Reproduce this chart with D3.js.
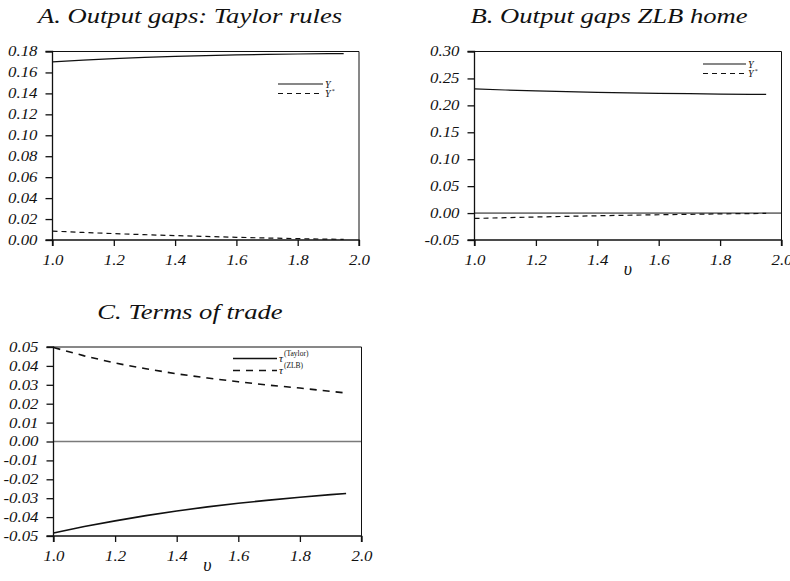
<!DOCTYPE html>
<html>
<head>
<meta charset="utf-8">
<script src="https://cdn.jsdelivr.net/npm/d3@7"></script>
<style>
  html, body { margin: 0; padding: 0; background: #fff; }
  svg { display: block; }
  text { font-family: "Liberation Serif", serif; font-style: italic; fill: #111; }
</style>
</head>
<body>
<svg id="chart" width="790" height="581"></svg>
<script>
// ---------- DATA ----------
const upsilon = [1.0, 1.1, 1.2, 1.3, 1.4, 1.5, 1.6, 1.7, 1.8, 1.9, 1.95];

// Panel A: output gaps under Taylor rules
const aY     = [0.1700, 0.1718, 0.1732, 0.1744, 0.1753, 0.1761, 0.1767, 0.1772, 0.1776, 0.1779, 0.1780];
const aYstar = [0.0085, 0.0072, 0.0061, 0.0051, 0.0042, 0.0034, 0.0026, 0.0019, 0.0013, 0.0008, 0.0006];

// Panel B: output gaps ZLB home
const bY     = [0.2305, 0.2285, 0.2268, 0.2254, 0.2242, 0.2232, 0.2224, 0.2216, 0.2210, 0.2205, 0.2203];
const bYstar = [-0.0100, -0.0086, -0.0073, -0.0061, -0.0050, -0.0040, -0.0031, -0.0023, -0.0015, -0.0009, -0.0006];

// Panel C: terms of trade
const cTaylor = [-0.0484, -0.0450, -0.0420, -0.0392, -0.0368, -0.0346, -0.0327, -0.0310, -0.0295, -0.0281, -0.0275];
const cZLB    = [0.0497, 0.0453, 0.0415, 0.0385, 0.0358, 0.0336, 0.0316, 0.0298, 0.0283, 0.0265, 0.0257];

// Tick values
const xTicks  = [1.0, 1.2, 1.4, 1.6, 1.8, 2.0];
const yTicksA = [0.00, 0.02, 0.04, 0.06, 0.08, 0.10, 0.12, 0.14, 0.16, 0.18];
const yTicksB = [-0.05, 0.00, 0.05, 0.10, 0.15, 0.20, 0.25, 0.30];
const yTicksC = [-0.05, -0.04, -0.03, -0.02, -0.01, 0.00, 0.01, 0.02, 0.03, 0.04, 0.05];

// Titles / labels
const titles = ["A. Output gaps: Taylor rules", "B. Output gaps ZLB home", "C. Terms of trade"];
const xLabel = "\u03C5";

// ---------- DRAW ----------
const svg = d3.select("#chart");
svg.append("rect").attr("width", 790).attr("height", 581).attr("fill", "#fff");

const FONT = "'Liberation Serif', serif";
const fmtY = v => d3.format(".2f")(v).replace("\u2212", "-");
const fmtX = v => d3.format(".1f")(v);

// horizontally widen a text (the reference face is a wide Century-style serif)
function widen(sel, k) {
  sel.each(function () {
    const w = this.getComputedTextLength();
    d3.select(this).attr("textLength", w * k).attr("lengthAdjust", "spacingAndGlyphs");
  });
}

function panel(cfg) {
  const g = svg.append("g");
  const x = d3.scaleLinear().domain([1, 2]).range([cfg.x0, cfg.x1]);
  const y = d3.scaleLinear().domain(cfg.yDomain).range([cfg.y1, cfg.y0]);

  // title
  const t = g.append("text").attr("x", cfg.titleX).attr("y", cfg.titleY)
    .attr("text-anchor", "middle").style("font-size", "20px").text(cfg.title);
  widen(t, cfg.titleK);

  // zero line
  if (cfg.zero) {
    g.append("line").attr("x1", cfg.x0).attr("x2", cfg.x1)
      .attr("y1", y(0)).attr("y2", y(0))
      .attr("stroke", cfg.zero.color).attr("stroke-width", cfg.zero.width);
  }

  // frame (top + right)
  g.append("path")
    .attr("d", `M${cfg.x0},${cfg.y0}H${cfg.x1}V${cfg.y1}`)
    .attr("fill", "none").attr("stroke", "#111").attr("stroke-width", 1);

  // axes
  const yAxis = d3.axisLeft(y).tickValues(cfg.yTicks).tickFormat(fmtY)
    .tickSize(7).tickPadding(8);
  const ya = g.append("g").attr("transform", `translate(${cfg.x0},0)`).call(yAxis);
  const xAxis = d3.axisBottom(x).tickValues(xTicks).tickFormat(fmtX)
    .tickSize(6).tickPadding(9);
  const xa = g.append("g").attr("transform", `translate(0,${cfg.y1})`).call(xAxis);
  [ya, xa].forEach(a => {
    a.attr("font-family", FONT).attr("font-size", 14);
    a.select(".domain").attr("stroke", "#111").attr("stroke-width", 1.3);
    a.selectAll(".tick line").attr("stroke", "#111").attr("stroke-width", 1.3);
    const tt = a.selectAll(".tick text").style("font-size", "14px")
      .style("font-family", FONT).style("font-style", "italic").attr("fill", "#111");
    widen(tt, 1.2);
  });
  ya.select(".domain").attr("d", `M-7,${cfg.y1}H0V${cfg.y0}H-7`);
  xa.select(".domain").attr("d", `M${cfg.x0},6V0H${cfg.x1}V6`);

  if (cfg.xLabel) {
    g.append("text").attr("x", (cfg.x0 + cfg.x1) / 2).attr("y", cfg.y1 + 35)
      .attr("text-anchor", "middle").style("font-size", "18px").text(xLabel);
  }

  // series
  const line = d3.line().x((d, i) => x(upsilon[i])).y(d => y(d));
  cfg.series.forEach(s => {
    g.append("path").datum(s.values).attr("d", line)
      .attr("fill", "none").attr("stroke", "#111")
      .attr("stroke-width", s.width)
      .attr("stroke-dasharray", s.dash || null);
  });

  // legend
  cfg.series.forEach((s, i) => {
    const ly = cfg.legend.y + i * cfg.legend.dy;
    g.append("line").attr("x1", cfg.legend.x).attr("x2", cfg.legend.x + cfg.legend.len)
      .attr("y1", ly).attr("y2", ly).attr("stroke", "#111")
      .attr("stroke-width", s.width).attr("stroke-dasharray", s.dash || null);
    const lt = g.append("text").attr("x", cfg.legend.x + cfg.legend.len + 2).attr("y", ly + 3.5)
      .style("font-size", cfg.legend.fs + "px");
    lt.append("tspan").text(s.label);
    if (s.sup) {
      lt.append("tspan").attr("dy", cfg.legend.supDy).attr("dx", 1)
        .style("font-size", cfg.legend.supFs + "px")
        .style("font-style", cfg.legend.supStyle || "italic").text(s.sup);
    }
  });
}

panel({
  title: titles[0], titleX: 190, titleY: 23, titleK: 1.33,
  x0: 52.5, x1: 359, y0: 51.5, y1: 240,
  yDomain: [0, 0.18], yTicks: yTicksA, xLabel: false,
  series: [
    { values: aY, width: 1.2, label: "Y" },
    { values: aYstar, width: 1.2, dash: "5,4", label: "Y", sup: "*" }
  ],
  legend: { x: 278, y: 84, dy: 9.5, len: 45, fs: 10, supFs: 6, supDy: -4 }
});

panel({
  title: titles[1], titleX: 609, titleY: 23, titleK: 1.33,
  x0: 474.5, x1: 781.5, y0: 51.5, y1: 240,
  yDomain: [-0.05, 0.30], yTicks: yTicksB, xLabel: true,
  zero: { color: "#111", width: 1 },
  series: [
    { values: bY, width: 1.2, label: "Y" },
    { values: bYstar, width: 1.2, dash: "5,4", label: "Y", sup: "*" }
  ],
  legend: { x: 703, y: 64, dy: 9.5, len: 43, fs: 10, supFs: 6, supDy: -4 }
});

panel({
  title: titles[2], titleX: 190, titleY: 319, titleK: 1.33,
  x0: 53.5, x1: 361.5, y0: 347, y1: 536,
  yDomain: [-0.05, 0.05], yTicks: yTicksC, xLabel: true,
  zero: { color: "#7a7a7a", width: 1.6 },
  series: [
    { values: cTaylor, width: 1.6, label: "\u03C4", sup: "(Taylor)" },
    { values: cZLB, width: 1.6, dash: "7,6", label: "\u03C4", sup: "(ZLB)" }
  ],
  legend: { x: 233, y: 358.5, dy: 12, len: 44, fs: 11, supFs: 7.5, supDy: -6, supStyle: "normal" }
});
</script>
</body>
</html>
